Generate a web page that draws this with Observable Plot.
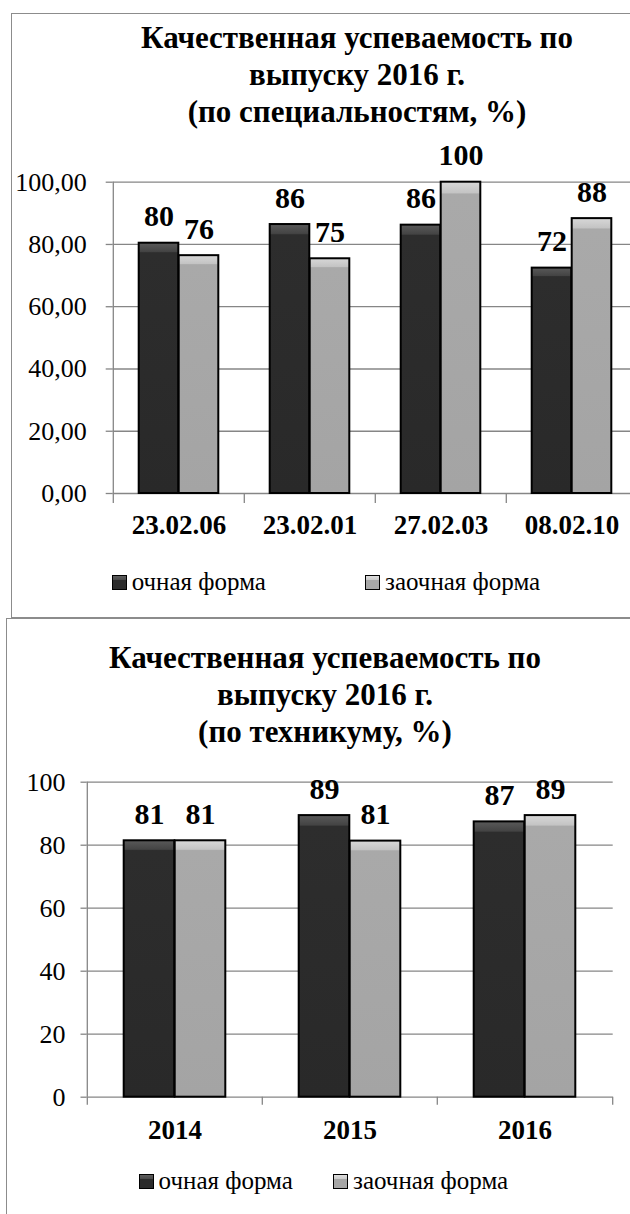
<!DOCTYPE html>
<html><head><meta charset="utf-8">
<style>
.box{position:absolute;border:1.5px solid #8c8c8c;box-sizing:border-box}
.title{position:absolute;font-family:'Times New Roman','Liberation Serif',serif;font-weight:bold;font-size:31px;line-height:37px;text-align:center;white-space:nowrap;z-index:2}
.chart{position:absolute;left:0}
.leg{position:absolute;font-family:'Times New Roman','Liberation Serif',serif;font-size:25px;line-height:30px;white-space:nowrap;z-index:2}
.sw{display:inline-block;width:15px;height:15px;box-sizing:border-box;border:1px solid #000;vertical-align:baseline}
.sw.d{background:linear-gradient(#5e5e5e 0,#4a4a4a 30%,#2b2b2b 31%,#2b2b2b 100%)}
.sw.l{background:linear-gradient(#dedede 0,#cbcbcb 30%,#a6a6a6 31%,#a6a6a6 100%)}
</style>
<script src="https://cdn.jsdelivr.net/npm/d3@7"></script>
<script src="https://cdn.jsdelivr.net/npm/@observablehq/plot@0.6"></script>
</head><body style="margin:0;padding:0;background:#fff;overflow:hidden;width:630px;height:1214px;position:relative;font-family:'Times New Roman',serif;color:#000">
<div class="box" style="left:11px;top:12.5px;width:700px;height:605px"></div>
<div class="box" style="left:6px;top:617.5px;width:700px;height:700px"></div>

<div class="title" id="t1" style="left:100px;width:514px;top:18.5px"></div>
<div id="c1" class="chart" style="top:140px"></div>
<div class="leg" id="l1a" style="left:111.7px;top:566.6px"></div>
<div class="leg" id="l1b" style="left:365px;top:566.6px"></div>

<div class="title" id="t2" style="left:65px;width:520px;top:639px"></div>
<div id="c2" class="chart" style="top:740px"></div>
<div class="leg" id="l2a" style="left:138.6px;top:1165.6px"></div>
<div class="leg" id="l2b" style="left:333px;top:1165.6px"></div>

<script>
// ---- data ----
const title1 = ["Качественная успеваемость по", "выпуску 2016 г.", "(по специальностям, %)"];
const title2 = ["Качественная успеваемость по", "выпуску 2016 г.", "(по техникуму, %)"];
const seriesNames = ["очная форма", "заочная форма"];

const categories1 = ["23.02.06", "23.02.01", "27.02.03", "08.02.10"];
const fullTime1 = [80.4, 86.4, 86.2, 72.4];
const partTime1 = [76.4, 75.4, 100, 88.3];
const yTicks1 = [0, 20, 40, 60, 80, 100];

const categories2 = ["2014", "2015", "2016"];
const fullTime2 = [81.4, 89.4, 87.4];
const partTime2 = [81.4, 81.3, 89.4];
const yTicks2 = [0, 20, 40, 60, 80, 100];

// ---- helpers ----
const NS = "http://www.w3.org/2000/svg";
const GRID = "#868686";
const FONT = "'Times New Roman', 'Liberation Serif', serif";

function addDefs(svg, prefix) {
  const defs = document.createElementNS(NS, "defs");
  defs.innerHTML =
    `<linearGradient id="${prefix}d" x1="0" y1="0" x2="0" y2="1">
       <stop offset="0" stop-color="#5a5a5a"/><stop offset="0.035" stop-color="#444444"/>
       <stop offset="0.04" stop-color="#2d2d2d"/><stop offset="1" stop-color="#292929"/>
     </linearGradient>
     <linearGradient id="${prefix}l" x1="0" y1="0" x2="0" y2="1">
       <stop offset="0" stop-color="#d8d8d8"/><stop offset="0.035" stop-color="#c4c4c4"/>
       <stop offset="0.04" stop-color="#a9a9a9"/><stop offset="1" stop-color="#a4a4a4"/>
     </linearGradient>`;
  svg.insertBefore(defs, svg.firstChild);
}

function build(cfg) {
  const {cats, a, b, yTicks, width, height, ml, mr, mt, mb, barW, tickFmt, prefix,
         yPad, yTickSize, xPad, xTickLen, labelSize, xFont, yFont} = cfg;
  const rows = [];
  cats.forEach((c, i) => {
    rows.push({cat: c, s: seriesNames[0], v: a[i]});
    rows.push({cat: c, s: seriesNames[1], v: b[i]});
  });
  const A = rows.filter(d => d.s === seriesNames[0]);
  const B = rows.filter(d => d.s === seriesNames[1]);
  const band = (width - ml - mr) / cats.length;
  const half = band / 2;
  const fmt = d => String(Math.round(d));
  const svg = Plot.plot({
    width, height, marginLeft: ml, marginRight: mr, marginTop: mt, marginBottom: mb,
    style: {background: "transparent", maxWidth: "none", overflow: "visible", fontFamily: FONT, color: "#000"},
    x: {type: "band", domain: cats, padding: 0},
    y: {domain: [0, 100]},
    marks: [
      Plot.gridY({ticks: yTicks, stroke: GRID, strokeOpacity: 1, strokeWidth: 1.3}),
      Plot.ruleX([cats[0]], {x: d => d, y1: 0, y2: 100, dx: -half, stroke: GRID, strokeWidth: 1.3}),
      Plot.ruleX(cats, {x: d => d, y1: 0, y2: 0, insetBottom: -xTickLen, dx: -half, stroke: GRID, strokeWidth: 1.3}),
      Plot.ruleX([cats[cats.length - 1]], {x: d => d, y1: 0, y2: 0, insetBottom: -xTickLen, dx: half, stroke: GRID, strokeWidth: 1.3}),
      Plot.axisY({ticks: yTicks, tickFormat: tickFmt, tickSize: yTickSize, tickPadding: yPad, fontSize: yFont, stroke: GRID, strokeWidth: 1.3, label: null}),
      Plot.axisX({tickSize: 0, tickPadding: xPad, fontSize: xFont, fontWeight: "bold", label: null}),
      Plot.barY(A, {x: "cat", y: "v", insetLeft: half - barW, insetRight: half, fill: `url(#${prefix}d)`, stroke: "#000", strokeWidth: 2}),
      Plot.barY(B, {x: "cat", y: "v", insetLeft: half, insetRight: half - barW, fill: `url(#${prefix}l)`, stroke: "#000", strokeWidth: 2}),
      Plot.text(A, {x: "cat", y: "v", text: d => fmt(d.v), dx: -barW / 2, dy: -17, lineAnchor: "bottom", fontSize: labelSize, fontWeight: "bold", fill: "#000"}),
      Plot.text(B, {x: "cat", y: "v", text: d => fmt(d.v), dx: barW / 2, dy: -17, lineAnchor: "bottom", fontSize: labelSize, fontWeight: "bold", fill: "#000"})
    ]
  });
  addDefs(svg, prefix);
  svg.setAttribute("font-family", FONT);
  return svg;
}

function fillTitle(id, lines) {
  document.getElementById(id).innerHTML = lines.join("<br>");
}
function fillLegend(id, name, cls) {
  const el = document.getElementById(id);
  const sw = document.createElement("span");
  sw.className = "sw " + cls;
  el.appendChild(sw);
  const t = document.createElement("span");
  t.textContent = name;
  t.style.marginLeft = "5px";
  el.appendChild(t);
}

fillTitle("t1", title1);
fillTitle("t2", title2);
fillLegend("l1a", seriesNames[0], "d");
fillLegend("l1b", seriesNames[1], "l");
fillLegend("l2a", seriesNames[0], "d");
fillLegend("l2b", seriesNames[1], "l");

document.getElementById("c1").appendChild(build({
  cats: categories1, a: fullTime1, b: partTime1, yTicks: yTicks1,
  width: 640, height: 410, ml: 112.7, mr: 1.7, mt: 41.7, mb: 57,
  barW: 40, tickFmt: d => d.toFixed(2).replace(".", ","), prefix: "g1",
  yPad: 19.5, yTickSize: 7, xPad: 21, xTickLen: 10, labelSize: 30, xFont: 27, yFont: 26
}));
document.getElementById("c2").appendChild(build({
  cats: categories2, a: fullTime2, b: partTime2, yTicks: yTicks2,
  width: 630, height: 420, ml: 86.5, mr: 17.3, mt: 41.7, mb: 63.3,
  barW: 51, tickFmt: d => String(d), prefix: "g2",
  yPad: 15.5, yTickSize: 6, xPad: 23, xTickLen: 8, labelSize: 30, xFont: 27, yFont: 26
}));
</script>
</body></html>
